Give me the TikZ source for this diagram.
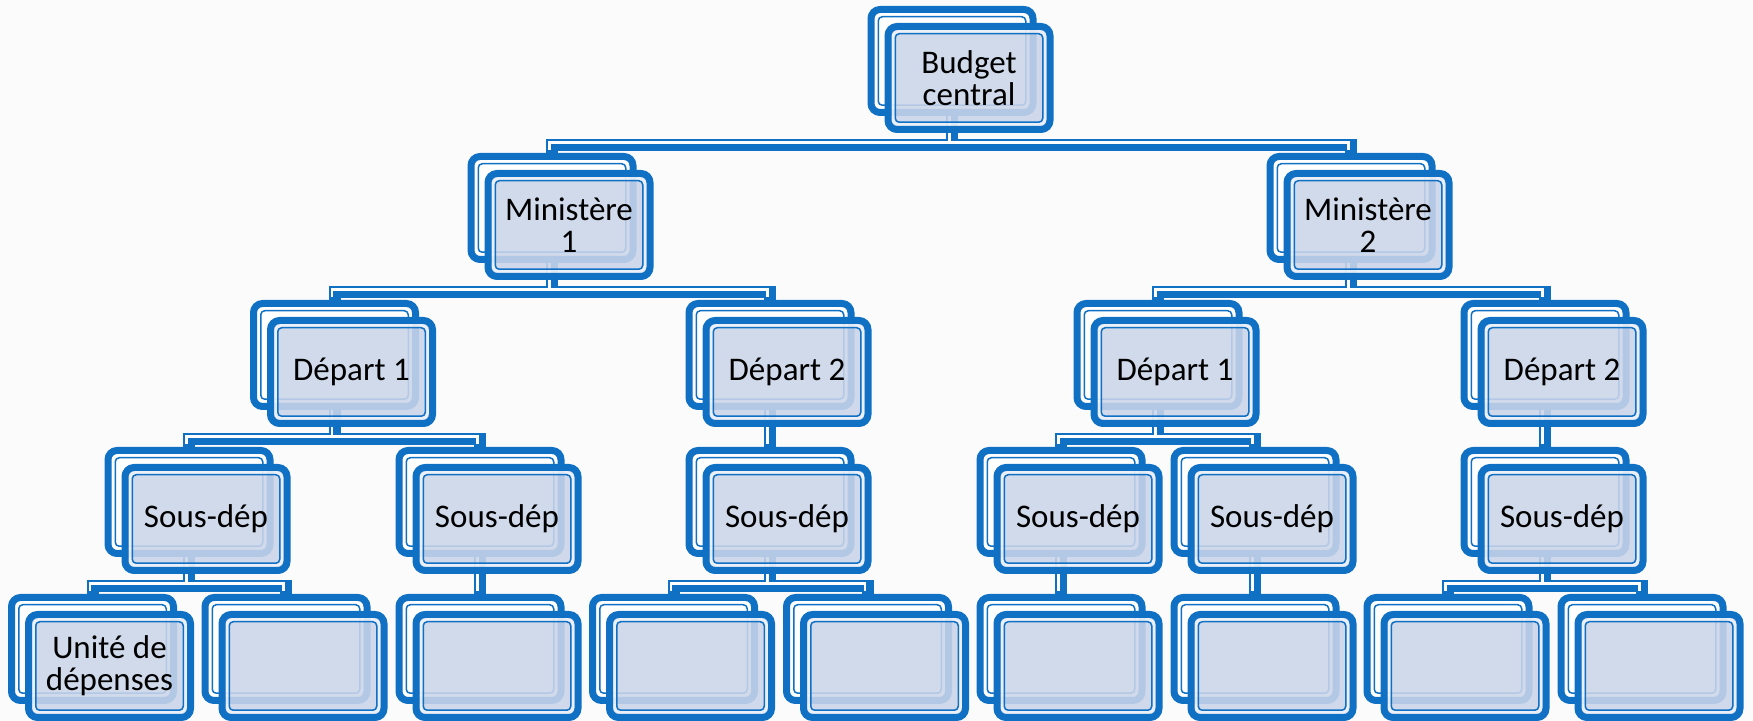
\documentclass[tikz,border=0pt]{standalone}
\usepackage{fontspec}
\setmainfont{Carlito}
\pgfdeclarelayer{bg}
\pgfsetlayers{bg,main}
\definecolor{sablue}{RGB}{16,112,196}
\definecolor{safill}{RGB}{202,213,233}
\definecolor{sabg}{RGB}{251,251,251}
\newdimen\pxu \pxu=0.5pt
\begin{document}
\begin{tikzpicture}[x=0.5pt, y=-0.5pt, line join=round, line cap=round,
  back/.style={draw=sablue, line width=7\pxu, fill=white, rounded corners=9\pxu, minimum width=162\pxu, minimum height=103\pxu, inner sep=0pt,
    path picture={\draw[sablue, line width=1.5\pxu, rounded corners=4\pxu] ([shift={(7.25\pxu,7.25\pxu)}]path picture bounding box.south west) rectangle ([shift={(-7.25\pxu,-7.25\pxu)}]path picture bounding box.north east);}},
  front/.style={draw=sablue, line width=7\pxu, fill=safill, fill opacity=.88, text opacity=1, rounded corners=9\pxu, minimum width=162\pxu, minimum height=103\pxu, inner sep=0pt, align=center, font=\fontsize{16.5}{16}\selectfont,
    path picture={\draw[white, draw opacity=.6, line width=3\pxu, rounded corners=6\pxu] ([shift={(5\pxu,5\pxu)}]path picture bounding box.south west) rectangle ([shift={(-5\pxu,-5\pxu)}]path picture bounding box.north east);
      \draw[sablue, line width=1.5\pxu, rounded corners=4\pxu] ([shift={(7.25\pxu,7.25\pxu)}]path picture bounding box.south west) rectangle ([shift={(-7.25\pxu,-7.25\pxu)}]path picture bounding box.north east);}},
  linkbase/.style={draw=sablue, line width=12\pxu},
  linkhi/.style={draw=white, line width=2.5\pxu, transform canvas={xshift=-2.5\pxu, yshift=2.5\pxu}}]
\useasboundingbox (0,0) rectangle (1753,721);
\foreach \n/\x/\y/\t in {bc/952/61/{Budget\\central}, m1/552/208/{Ministère\\1}, m2/1351/208/{Ministère\\2},
  d11/334.5/355/{Départ 1}, d12/770/355/{Départ 2}, d21/1158/355/{Départ 1}, d22/1545/355/{Départ 2},
  s1/189/502/{Sous-dép}, s2/480/502/{Sous-dép}, s3/770/502/{Sous-dép}, s4/1061/502/{Sous-dép}, s5/1255/502/{Sous-dép}, s6/1545/502/{Sous-dép},
  u1/92.5/649/{Unité de\\dépenses}, u2/286/649/{}, u3/480/649/{}, u4/673.5/649/{}, u5/867.5/649/{}, u6/1061/649/{}, u7/1255/649/{}, u8/1448/649/{}, u9/1642/649/{}}
{
  \node[back] (\n) at (\x,\y) {};
  \node[front] (\n-f) at ([shift={(17\pxu,-17\pxu)}]\n.center) {\t};
}
\begin{pgfonlayer}{bg}
  \fill[sabg] (0,0) rectangle (1753,721);
  \foreach \s in {linkbase,linkhi}
    \foreach \p/\c in {bc/m1, bc/m2, m1/d11, m1/d12, m2/d21, m2/d22, d11/s1, d11/s2, d12/s3, d21/s4, d21/s5, d22/s6,
      s1/u1, s1/u2, s2/u3, s3/u4, s3/u5, s4/u6, s5/u7, s6/u8, s6/u9}
      \draw[\s] (\p.south) |- ([yshift=8\pxu]\c.north) -- (\c.north);
\end{pgfonlayer}
\end{tikzpicture}
\end{document}
